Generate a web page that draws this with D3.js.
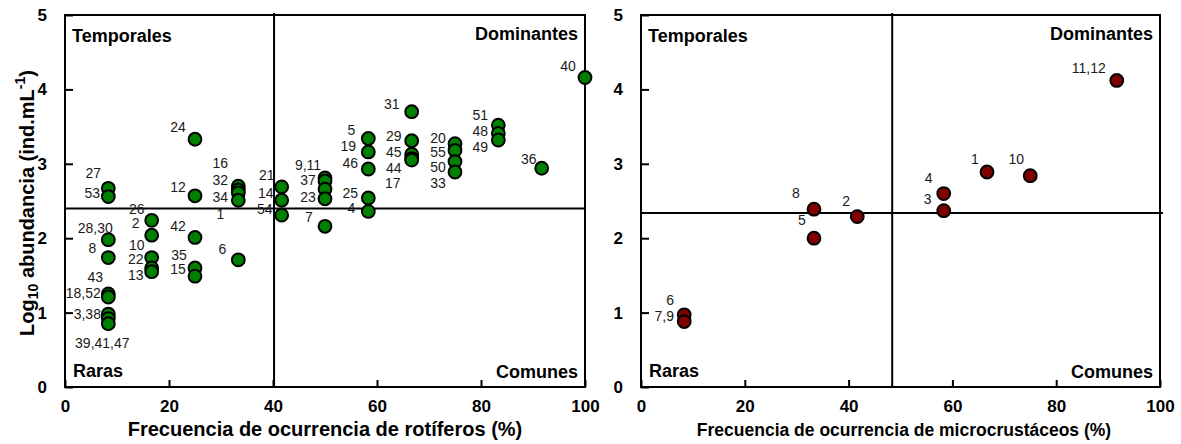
<!DOCTYPE html>
<html>
<head>
<meta charset="utf-8">
<script src="https://cdn.jsdelivr.net/npm/d3@7/dist/d3.min.js"></script>
<style>
  html, body { margin: 0; padding: 0; background: #fff; }
  svg { display: block; font-family: Arial, "Liberation Sans", sans-serif; }
</style>
</head>
<body>
<svg id="chart" width="1181" height="444"></svg>
<script>
// Rotíferos: frecuencia de ocurrencia (%) vs log10 abundancia
const rotLabels = ["27","53","28,30","8","43","18,52","3,38","","39,41,47",
  "26","2","10","22","13",
  "24","12","42","35","15",
  "16","32","34","1","6",
  "21","14","54",
  "9,11","","37","23","7",
  "5","19","46","25","4",
  "31","29","45","44","17",
  "20","55","50","33",
  "51","48","49",
  "36","40"];
const rotFreq = [8.33,8.33,8.33,8.33,8.33,8.33,8.33,8.33,8.33,
  16.67,16.67,16.67,16.67,16.67,
  25,25,25,25,25,
  33.33,33.33,33.33,33.33,33.33,
  41.67,41.67,41.67,
  50,50,50,50,50,
  58.33,58.33,58.33,58.33,58.33,
  66.67,66.67,66.67,66.67,66.67,
  75,75,75,75,
  83.33,83.33,83.33,
  91.67,100];
const rotAbund = [2.67,2.56,1.98,1.74,1.25,1.21,0.98,0.92,0.85,
  2.24,2.04,1.74,1.60,1.55,
  3.33,2.57,2.01,1.60,1.49,
  2.70,2.65,2.61,2.51,1.71,
  2.69,2.51,2.31,
  2.81,2.77,2.66,2.53,2.16,
  3.34,3.16,2.93,2.54,2.36,
  3.70,3.31,3.13,3.07,3.05,
  3.27,3.18,3.03,2.89,
  3.52,3.41,3.32,
  2.94,4.16];
const rotCut = [40.2, 2.40];   // límites: frecuencia media, abundancia media

// Microcrustáceos
const micLabels = ["6","7,9","8","5","2","4","3","1","10","11,12"];
const micFreq   = [8.33,8.33,33.33,33.33,41.67,58.33,58.33,66.67,75,91.67];
const micAbund  = [0.97,0.88,2.39,2.00,2.29,2.60,2.37,2.89,2.84,4.12];
const micCut = [48.4, 2.34];

const xTicks = [0,20,40,60,80,100];
const yTicks = [0,1,2,3,4,5];
const quadrantNames = ["Temporales","Dominantes","Raras","Comunes"];

// label placement (px, relative to point centre)
const rotLabelShift = [[-15,-15],[-16,-4],[-13,-12],[-16,-10],[-13,-17],[-25,-4],[-21,0],[0,0],[-6,19],
  [-15,-11],[-16,-12],[-15,-13],[-16,-9],[-16,3],
  [-17,-12],[-17,-9],[-17,-11],[-16,-13],[-17,-7],
  [-18,-23],[-18,-10],[-18,4],[-18,14],[-16,-11],
  [-15,-12],[-16,-7],[-17,-6],
  [-17,-13],[0,0],[-17,-9],[-17,-2],[-16,-9],
  [-17,-9],[-20,-6],[-18,-6],[-18,-5],[-17,-3],
  [-20,-8],[-18,-5],[-18,-2],[-18,9],[-19,23],
  [-17,-6],[-17,2],[-17,5],[-17,11],
  [-18,-10],[-18,-2],[-18,7],
  [-13,-9],[-17,-11]];
const micLabelShift = [[-14,-15],[-20,-6],[-18,-16],[-12,-18],[-11,-16],[-15,-16],[-16,-12],[-12,-13],[-14,-17],[-28,-12]];

const svg = d3.select("#chart");
const plotTop = 15, plotBottom = 387;
const fontFamily = "Arial, 'Liberation Sans', sans-serif";

function panel(opts) {
  const x = d3.scaleLinear().domain([0,100]).range([opts.left, opts.right]);
  const y = d3.scaleLinear().domain([0,5]).range([plotBottom, plotTop]);
  const g = svg.append("g");

  // axes with inward ticks
  const ax = g.append("g").attr("transform", `translate(0,${plotBottom})`)
    .call(d3.axisBottom(x).tickValues(xTicks).tickFormat(d3.format("d"))
      .tickSizeInner(-7).tickSizeOuter(0).tickPadding(13));
  const ay = g.append("g").attr("transform", `translate(${opts.left},0)`)
    .call(d3.axisLeft(y).tickValues(yTicks).tickFormat(d3.format("d"))
      .tickSizeInner(-8).tickSizeOuter(0).tickPadding(18));
  [ax, ay].forEach(a => {
    a.select(".domain").remove();
    a.selectAll("line").attr("stroke", "#000").attr("stroke-width", 2);
    a.selectAll("text").attr("font-size", 17).attr("font-weight", "bold")
      .attr("font-family", fontFamily).attr("fill", "#000");
  });

  // frame
  g.append("rect").attr("x", x(0)).attr("y", y(5))
    .attr("width", x(100) - x(0)).attr("height", y(0) - y(5))
    .attr("fill", "none").attr("stroke", "#000").attr("stroke-width", 2);

  // quadrant dividers
  g.append("line").attr("x1", x(opts.cut[0])).attr("x2", x(opts.cut[0]))
    .attr("y1", y(5) - 2).attr("y2", y(0)).attr("stroke", "#000").attr("stroke-width", 2);
  g.append("line").attr("x1", x(0)).attr("x2", x(100) + opts.hExtra)
    .attr("y1", y(opts.cut[1])).attr("y2", y(opts.cut[1])).attr("stroke", "#000").attr("stroke-width", 2);

  // quadrant names
  const qn = g.append("g").attr("font-size", 18).attr("font-weight", "bold").attr("fill", "#000");
  qn.append("text").attr("x", x(0) + 7).attr("y", 42).text(quadrantNames[0]);
  qn.append("text").attr("x", x(100) - 7).attr("y", 40).attr("text-anchor", "end").text(quadrantNames[1]);
  qn.append("text").attr("x", x(0) + 8).attr("y", 377).text(quadrantNames[2]);
  qn.append("text").attr("x", x(100) - 7).attr("y", 378).attr("text-anchor", "end").text(quadrantNames[3]);

  // points
  const pts = opts.freq.map((f, i) => ({ f, a: opts.abund[i], label: opts.labels[i], s: opts.shift[i] }));
  g.append("g").selectAll("circle").data(pts).join("circle")
    .attr("cx", d => x(d.f)).attr("cy", d => y(d.a)).attr("r", 6.4)
    .attr("fill", opts.color).attr("stroke", "#000").attr("stroke-width", 2);

  g.append("g").attr("font-size", 14).attr("fill", "#1a1a1a")
    .selectAll("text").data(pts.filter(d => d.label)).join("text")
    .attr("x", d => x(d.f) + d.s[0]).attr("y", d => y(d.a) + d.s[1])
    .attr("text-anchor", "middle").attr("dominant-baseline", "central")
    .text(d => d.label);

  // x title
  g.append("text").attr("x", opts.titleX).attr("y", 436)
    .attr("text-anchor", "middle").attr("font-size", opts.titleSize).attr("font-weight", "bold")
    .text(opts.title);
  return { x, y };
}

panel({ left: 65, right: 585, cut: rotCut, freq: rotFreq, abund: rotAbund, labels: rotLabels,
  shift: rotLabelShift, color: "#008000", hExtra: 0, titleX: 325, titleSize: 20,
  title: "Frecuencia de ocurrencia de rotíferos (%)" });
panel({ left: 641, right: 1160, cut: micCut, freq: micFreq, abund: micAbund, labels: micLabels,
  shift: micLabelShift, color: "#800000", hExtra: 3, titleX: 904, titleSize: 17.5,
  title: "Frecuencia de ocurrencia de microcrustáceos (%)" });

// y title
const yt = svg.append("text").attr("transform", "translate(34,203) rotate(-90)")
  .attr("text-anchor", "middle").attr("font-size", 20).attr("font-weight", "bold");
yt.append("tspan").text("Log");
yt.append("tspan").attr("font-size", 14).attr("dy", 4).text("10");
yt.append("tspan").attr("dy", -4).text(" abundancia  (ind.mL");
yt.append("tspan").attr("font-size", 14).attr("dy", -9).text("-1");
yt.append("tspan").attr("dy", 9).text(")");
</script>
</body>
</html>
